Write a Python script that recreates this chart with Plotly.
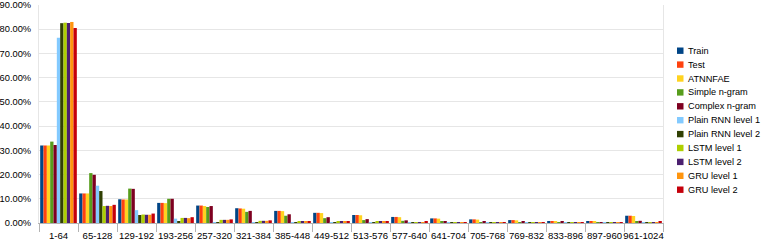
import plotly.graph_objects as go

categories = ["1-64", "65-128", "129-192", "193-256", "257-320", "321-384", "385-448",
              "449-512", "513-576", "577-640", "641-704", "705-768", "769-832",
              "833-896", "897-960", "961-1024"]

train     = [32.0, 12.2, 9.8, 8.3, 7.2, 6.1, 5.0, 4.2, 3.3, 2.5, 1.9, 1.5, 1.2, 0.8, 0.7, 3.0]
test      = [32.0, 12.2, 9.7, 8.3, 7.2, 6.0, 5.0, 4.2, 3.3, 2.5, 1.9, 1.5, 1.2, 0.8, 0.7, 3.0]
atnnfae   = [32.0, 12.2, 9.7, 8.2, 7.0, 5.9, 4.9, 4.1, 3.2, 2.4, 1.8, 1.4, 1.1, 0.7, 0.6, 2.9]
simple    = [33.6, 20.6, 14.2, 10.0, 6.6, 4.6, 3.0, 2.0, 1.2, 0.9, 0.5, 0.4, 0.4, 0.3, 0.3, 0.5]
complex_  = [32.2, 19.9, 14.1, 10.0, 7.0, 5.0, 3.6, 2.4, 1.6, 1.1, 0.8, 0.7, 0.6, 0.5, 0.4, 0.9]
prnn1     = [76.5, 15.4, 5.3, 1.8, 0.4, 0.2, 0.1, 0.1, 0.1, 0.1, 0.1, 0.1, 0.1, 0.1, 0.1, 0.1]
prnn2     = [82.5, 13.2, 3.3, 0.8, 0.2, 0.1, 0.1, 0.1, 0.1, 0.1, 0.1, 0.1, 0.1, 0.1, 0.1, 0.1]
lstm1     = [82.7, 7.0, 3.5, 2.1, 1.3, 0.9, 0.7, 0.5, 0.5, 0.4, 0.4, 0.3, 0.3, 0.3, 0.3, 0.4]
lstm2     = [82.6, 7.1, 3.4, 2.1, 1.3, 0.9, 0.7, 0.5, 0.5, 0.4, 0.4, 0.3, 0.3, 0.3, 0.3, 0.4]
gru1      = [83.0, 7.0, 3.4, 2.0, 1.3, 0.9, 0.7, 0.5, 0.5, 0.4, 0.4, 0.3, 0.3, 0.3, 0.3, 0.4]
gru2      = [80.5, 7.5, 3.9, 2.4, 1.5, 1.1, 0.8, 0.6, 0.5, 0.5, 0.4, 0.4, 0.3, 0.3, 0.3, 0.5]

series_names = ["Train", "Test", "ATNNFAE", "Simple n-gram", "Complex n-gram",
                "Plain RNN level 1", "Plain RNN level 2", "LSTM level 1",
                "LSTM level 2", "GRU level 1", "GRU level 2"]
series_values = [train, test, atnnfae, simple, complex_, prnn1, prnn2, lstm1, lstm2, gru1, gru2]
colors = ["#004586", "#ff420e", "#ffd320", "#579d1c", "#7e0021", "#83caff",
          "#314004", "#aecf00", "#4b1f6f", "#ff950e", "#c5000b"]

W, H = 761, 240
L, R, T, B = 39, 98, 5, 17
pw, ph = W - L - R, H - T - B

fig = go.Figure()
for name, vals, c in zip(series_names, series_values, colors):
    fig.add_trace(go.Bar(x=categories, y=[v / 100 for v in vals], name=name,
                         marker=dict(color=c, line=dict(width=0)), showlegend=False))

# custom compact legend (pixel layout converted to paper coords)
def px_x(x):
    return (x - L) / pw

def px_y(y):
    return (H - B - y) / ph

shapes = []
annotations = []
for i, (name, c) in enumerate(zip(series_names, colors)):
    cy = 50.7 + i * 13.9
    shapes.append(dict(type="rect", xref="paper", yref="paper",
                       x0=px_x(677), x1=px_x(683.5), y0=px_y(cy + 3.2), y1=px_y(cy - 3.2),
                       fillcolor=c, line=dict(width=0)))
    annotations.append(dict(xref="paper", yref="paper", x=px_x(685.5), y=px_y(cy),
                            text=name, showarrow=False, xanchor="left", yanchor="middle",
                            font=dict(size=9.2, color="#000000")))

fig.update_layout(
    width=W, height=H,
    margin=dict(l=L, r=R, t=T, b=B, autoexpand=False),
    barmode="group", bargap=0.06, bargroupgap=0,
    plot_bgcolor="white", paper_bgcolor="white",
    font=dict(family="Liberation Sans, Arial, sans-serif", size=10, color="#000000"),
    showlegend=False,
    shapes=shapes, annotations=annotations,
)
fig.update_xaxes(showgrid=False, showline=True, linecolor="#b3b3b3", linewidth=1,
                 ticks="outside", tickson="boundaries", ticklen=8, tickcolor="#b3b3b3",
                 tickfont=dict(size=9.6), tickangle=0, automargin=False,
                 ticklabeloverflow="allow", ticklabelstandoff=3)
fig.update_yaxes(range=[0, 0.9], tickvals=[i / 10 for i in range(10)], tickformat=".2%",
                 showgrid=True, gridcolor="#e6e6e6", gridwidth=1, showline=True,
                 linecolor="#e6e6e6", mirror=True, ticks="", tickfont=dict(size=9.3),
                 zeroline=False, automargin=False, ticklabeloverflow="allow",
                 ticklabelstandoff=5)

fig.write_html("out.html", config={"displayModeBar": False},
               post_script="document.body.style.margin='0';document.body.style.overflow='hidden';")
